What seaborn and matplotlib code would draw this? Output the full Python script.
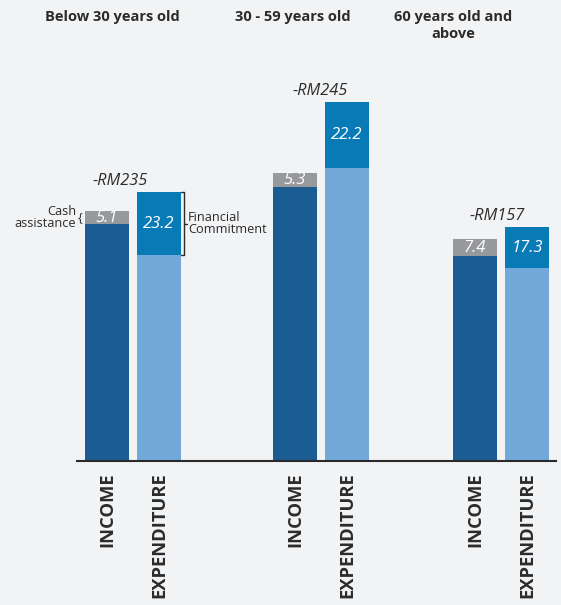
import matplotlib
matplotlib.use("Agg")
import matplotlib.pyplot as plt
import seaborn as sns
import pandas as pd

# ---- data (heights, arbitrary units) ----
groups = ["Below 30 years old", "30 - 59 years old", "60 years old and\nabove"]
income_base = [237, 274, 205]
cash_assist = [13, 14, 17]
exp_base = [206, 293, 193]
fin_commit = [63, 66, 41]
cash_pct = ["5.1", "5.3", "7.4"]
commit_pct = ["23.2", "22.2", "17.3"]
gap_labels = ["-RM235", "-RM245", "-RM157"]
tick_labels = ["INCOME", "EXPENDITURE"]

# ---- layout ----
income_pos = [107, 295, 475]
exp_pos = [159, 347, 527]
title_x = [112, 293, 453]
gap_x = [120, 320, 497]

BG = "#f2f3f5"
DARK = "#1b5d92"
LIGHT = "#73a8da"
GREY = "#98999d"
BLUE = "#087bb7"
TXT = "#2b2b2b"

sns.set_theme(style="white")
plt.rcParams["font.family"] = ["Open Sans", "DejaVu Sans"]

W, H = 561, 605
fig = plt.figure(figsize=(W / 100, H / 100), dpi=100, facecolor=BG)
base_px = 461
ax = fig.add_axes([0, (H - base_px) / H, 1, base_px / H])
ax.set_facecolor(BG)

rows = []
for i in range(3):
    rows.append({"pos": income_pos[i], "kind": "Income",
                 "base": income_base[i], "total": income_base[i] + cash_assist[i]})
    rows.append({"pos": exp_pos[i], "kind": "Expenditure",
                 "base": exp_base[i], "total": exp_base[i] + fin_commit[i]})
df = pd.DataFrame(rows)

width = 44 / 52
sns.barplot(data=df, x="pos", y="total", hue="kind",
            palette={"Income": GREY, "Expenditure": BLUE},
            native_scale=True, width=width, dodge=False, legend=False,
            saturation=1, linewidth=0, ax=ax)
sns.barplot(data=df, x="pos", y="base", hue="kind",
            palette={"Income": DARK, "Expenditure": LIGHT},
            native_scale=True, width=width, dodge=False, legend=False,
            saturation=1, linewidth=0, ax=ax)

ax.set_xlim(0, W)
ax.set_ylim(0, base_px)
for s in ["top", "left", "right"]:
    ax.spines[s].set_visible(False)
ax.spines["bottom"].set_color("#2a2a2a")
ax.spines["bottom"].set_linewidth(1.5)
ax.spines["bottom"].set_bounds(77, 556)
ax.set_yticks([])
ax.set_xlabel("")
ax.set_ylabel("")

ticks = []
labels = []
for i in range(3):
    ticks += [income_pos[i], exp_pos[i]]
    labels += tick_labels
ax.set_xticks(ticks)
ax.set_xticklabels(labels, rotation=90, fontsize=13.2, fontweight="bold",
                   color=TXT, va="top")
ax.tick_params(axis="x", length=0, pad=8)

# segment labels
for i in range(3):
    ax.text(income_pos[i], income_base[i] + cash_assist[i] / 2, cash_pct[i],
            ha="center", va="center", color="white", style="italic", fontsize=12)
    ax.text(exp_pos[i], exp_base[i] + fin_commit[i] / 2, commit_pct[i],
            ha="center", va="center", color="white", style="italic", fontsize=12)
    top = max(income_base[i] + cash_assist[i], exp_base[i] + fin_commit[i])
    ax.text(gap_x[i], top + 11, gap_labels[i], ha="center", va="center",
            color=TXT, style="italic", fontsize=11.8)
    ax.text(title_x[i], base_px - 10, groups[i], ha="center", va="top",
            color=TXT, fontweight="bold", fontsize=10.5, linespacing=1.25)

# annotations for first group
y_mid_cash = income_base[0] + cash_assist[0] / 2
ax.text(76, y_mid_cash, "Cash\nassistance", ha="right", va="center",
        color=TXT, fontsize=9.2, linespacing=0.95)
ax.text(80, y_mid_cash, "{", ha="center", va="center", color=TXT, fontsize=9)

y0 = exp_base[0]
y1 = exp_base[0] + fin_commit[0]
bx = 184
ax.plot([181, bx, bx, 181], [y1, y1, y0, y0], color=TXT, lw=1, clip_on=False)
ax.plot([bx, 187], [(y0 + y1) / 2, (y0 + y1) / 2], color=TXT, lw=1, clip_on=False)
ax.text(188, (y0 + y1) / 2, "Financial\nCommitment", ha="left", va="center",
        color=TXT, fontsize=9.2, linespacing=0.95)

fig.savefig("out.png", dpi=100, facecolor=BG)
